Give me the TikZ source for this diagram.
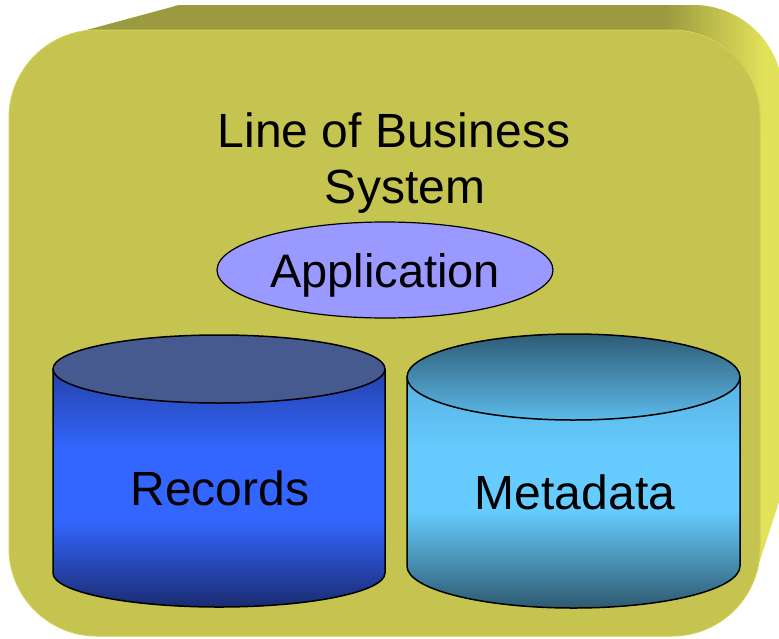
\documentclass[tikz,border=0pt]{standalone}
\usepackage{fontspec}
\setmainfont{Liberation Sans}
\usetikzlibrary{shapes.geometric}

\definecolor{frontface}{HTML}{C5C450}
\definecolor{topface}{HTML}{9B9A40}
\definecolor{sideface}{HTML}{E2E25A}
\definecolor{frontedge}{HTML}{D0D055}
\definecolor{appfill}{HTML}{9999FF}
\definecolor{rectop}{HTML}{465A90}
\definecolor{recdark}{HTML}{2442A8}
\definecolor{recbright}{HTML}{3366FF}
\definecolor{recdeep}{HTML}{1A2A6E}
\definecolor{metatopA}{HTML}{2E5C76}
\definecolor{metatopB}{HTML}{5CBAEA}
\definecolor{metaupper}{HTML}{58B2E2}
\definecolor{metabright}{HTML}{66CCFF}
\definecolor{metadeep}{HTML}{2E586E}

\tikzset{
  cylline/.style={draw=black, line width=1.5pt},
  label/.style={font=\fontsize{48}{56}\selectfont, text=black, inner sep=0pt, anchor=base},
  appnode/.style={ellipse, draw=black, line width=1.2pt, fill=appfill,
    minimum width=336pt, minimum height=96pt, inner sep=0pt, text depth=0pt,
    font=\fontsize{47}{56}\selectfont}
}

\begin{document}
\begin{tikzpicture}[x=1pt,y=-1pt]
\useasboundingbox (0,0) rectangle (779,638);

\begin{scope}
  \clip (0,0) rectangle (779,638);
  % outline of the extruded box: the side face
  \def\boxbody{(72,34) -- (172,7) .. controls (178,5) .. (186,5) -- (693,5)
      arc[start angle=-90,end angle=0,radius=90] -- (783,490) -- (758,566)
      -- (700,600) -- (100,600) -- cycle}
  \fill[sideface] \boxbody;
  % top face, fading into the side face round the back corner
  \begin{scope}
    \clip \boxbody;
    \fill[topface] (0,0) rectangle (665,40);
    \shade[left color=topface, right color=sideface] (665,0) rectangle (765,130);
  \end{scope}
  % front face
  \fill[frontface, draw=frontedge, line width=1pt, rounded corners=88pt]
    (9,30) rectangle (760,636);
\end{scope}

% Records cylinder
\begin{scope}
  \clip (53,369) -- (53,573) arc[start angle=180,end angle=0,x radius=166,y radius=34]
    -- (385,369) -- cycle;
  \shade[top color=recdark, bottom color=recbright] (53,369) rectangle (385,450);
  \fill[recbright] (53,449) rectangle (385,521);
  \shade[top color=recbright, bottom color=recdeep] (53,520) rectangle (385,608);
\end{scope}
\draw[cylline] (53,369) -- (53,573)
  arc[start angle=180,end angle=0,x radius=166,y radius=34] -- (385,369);
\draw[cylline, fill=rectop] (219,369) ellipse[x radius=166, y radius=34];

% Metadata cylinder
\begin{scope}
  \clip (407,377) -- (407,566) arc[start angle=180,end angle=0,x radius=166.5,y radius=42]
    -- (740,377) -- cycle;
  \shade[top color=metaupper, bottom color=metabright] (407,377) rectangle (740,455);
  \fill[metabright] (407,454) rectangle (740,511);
  \shade[top color=metabright, bottom color=metadeep] (407,510) rectangle (740,609);
\end{scope}
\draw[cylline] (407,377) -- (407,566)
  arc[start angle=180,end angle=0,x radius=166.5,y radius=42] -- (740,377);
\shade[top color=metatopA, bottom color=metatopB, cylline]
  (573.5,377) ellipse[x radius=166.5, y radius=43];

% labels
\node[label] (title) at (394,147) {Line of Business};
\node[label] (title2) at (405,203) {System};
\node[appnode] (app) at (385,270) {Application};
\node[label] (records) at (220,505) {Records};
\node[label] (metadata) at (575,509) {Metadata};
\end{tikzpicture}
\end{document}
